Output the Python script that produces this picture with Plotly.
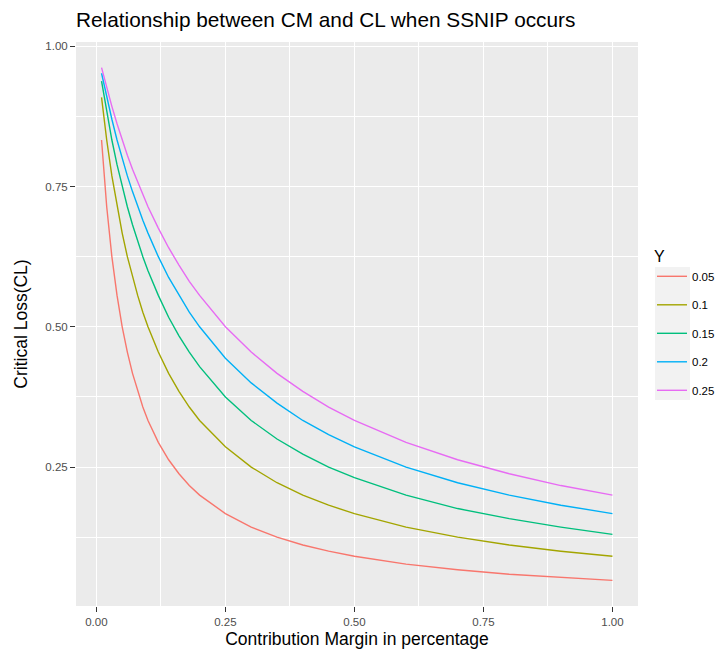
import plotly.graph_objects as go

# contribution margin (x) and critical loss, one list per Y level
cm = [0.01, 0.02, 0.03, 0.04, 0.05, 0.06, 0.07, 0.08, 0.09, 0.10, 0.12, 0.14, 0.16, 0.18, 0.20,
      0.25, 0.30, 0.35, 0.40, 0.45, 0.50, 0.60, 0.70, 0.80, 0.90, 1.00]

cl_005 = [0.833, 0.714, 0.625, 0.556, 0.500, 0.455, 0.417, 0.385, 0.357, 0.333, 0.294, 0.263, 0.238, 0.217, 0.200,
          0.167, 0.143, 0.125, 0.111, 0.100, 0.091, 0.077, 0.067, 0.059, 0.053, 0.048]
cl_010 = [0.909, 0.833, 0.769, 0.714, 0.667, 0.625, 0.588, 0.556, 0.526, 0.500, 0.455, 0.417, 0.385, 0.357, 0.333,
          0.286, 0.250, 0.222, 0.200, 0.182, 0.167, 0.143, 0.125, 0.111, 0.100, 0.091]
cl_015 = [0.938, 0.882, 0.833, 0.789, 0.750, 0.714, 0.682, 0.652, 0.625, 0.600, 0.556, 0.517, 0.484, 0.455, 0.429,
          0.375, 0.333, 0.300, 0.273, 0.250, 0.231, 0.200, 0.176, 0.158, 0.143, 0.130]
cl_020 = [0.952, 0.909, 0.870, 0.833, 0.800, 0.769, 0.741, 0.714, 0.690, 0.667, 0.625, 0.588, 0.556, 0.526, 0.500,
          0.444, 0.400, 0.364, 0.333, 0.308, 0.286, 0.250, 0.222, 0.200, 0.182, 0.167]
cl_025 = [0.962, 0.926, 0.893, 0.862, 0.833, 0.806, 0.781, 0.758, 0.735, 0.714, 0.676, 0.641, 0.610, 0.581, 0.556,
          0.500, 0.455, 0.417, 0.385, 0.357, 0.333, 0.294, 0.263, 0.238, 0.217, 0.200]

y_labels = ["0.05", "0.1", "0.15", "0.2", "0.25"]
series = [cl_005, cl_010, cl_015, cl_020, cl_025]
colors = ["#F8766D", "#A3A500", "#00BF7D", "#00B0F6", "#E76BF3"]  # ggplot 默认色

fig = go.Figure()
for name, vals, col in zip(y_labels, series, colors):
    fig.add_trace(go.Scatter(
        x=cm, y=vals, mode="lines", name=name, legendgroup=name,
        line=dict(color=col, width=1.4),
    ))

# 坐标范围：ggplot 两端各扩展 5%
all_y = [v for s in series for v in s]
xr = max(cm) - min(cm)
yr = max(all_y) - min(all_y)

# 页面 body 有 8px 边距，图尺寸相应缩小
W, H = 717, 641
L, T, R, B = 68, 34, 87, 43
pw, ph = W - L - R, H - T - B

font = "Liberation Sans, Arial, sans-serif"
axis_common = dict(
    showgrid=True, gridcolor="white", gridwidth=1.1,
    zeroline=False, showline=False,
    ticks="outside", ticklen=5, tickcolor="#333333", tickwidth=1,
    tickfont=dict(size=11.5, color="#4D4D4D", family=font),
    tickformat=".2f", tick0=0, dtick=0.25,
    minor=dict(showgrid=True, gridcolor="white", gridwidth=0.5, dtick=0.125, tick0=0),
)

fig.update_layout(
    width=W, height=H,
    margin=dict(l=L, r=R, t=T, b=B, autoexpand=False),
    paper_bgcolor="white", plot_bgcolor="#EBEBEB",
    font=dict(family=font, color="black"),
    title=dict(text="Relationship between CM and CL when SSNIP occurs",
               x=L / W, xanchor="left", xref="container",
               y=1 - 12 / H, yanchor="middle",
               font=dict(size=20.8, color="black")),
    xaxis=dict(axis_common, range=[min(cm) - 0.05 * xr, max(cm) + 0.05 * xr],
               title=dict(text="Contribution Margin in percentage",
                          font=dict(size=17.5, color="black"), standoff=22)),
    yaxis=dict(axis_common, range=[min(all_y) - 0.05 * yr, max(all_y) + 0.05 * yr],
               title=dict(text="Critical Loss(CL)",
                          font=dict(size=17.5, color="black"), standoff=13)),
    legend=dict(title=dict(text="Y", font=dict(size=16, color="black")),
                x=(644 - L) / pw, xanchor="left", y=1 - (233 - T) / ph, yanchor="top",
                font=dict(size=11.5, color="black"),
                tracegroupgap=9.5, traceorder="grouped", bgcolor="rgba(0,0,0,0)"),
    shapes=[dict(type="rect", xref="paper", yref="paper", layer="below",
                 x0=(647 - L) / pw, x1=(682 - L) / pw,
                 y0=(H - B - 392) / ph, y1=(H - B - 259) / ph,
                 fillcolor="#F2F2F2", line=dict(width=0))],
)

fig.write_html("out.html")
